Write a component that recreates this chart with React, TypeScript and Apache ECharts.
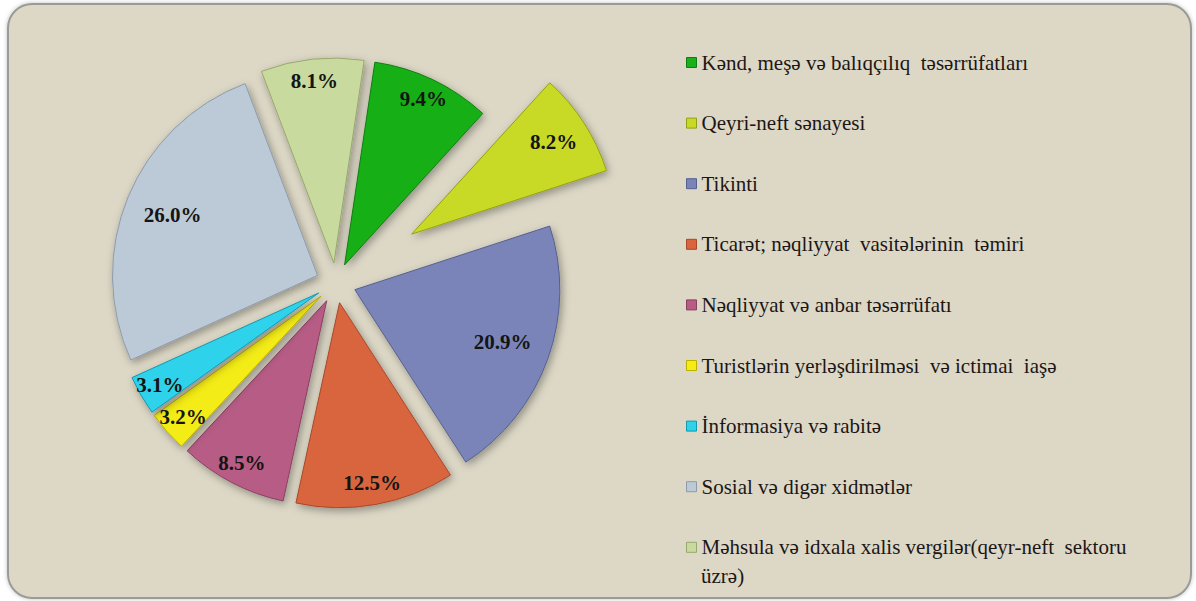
import React, { useEffect, useRef } from "react";
import * as echarts from "echarts";

const categories = [
  "Kənd, meşə və balıqçılıq  təsərrüfatları",
  "Qeyri-neft sənayesi",
  "Tikinti",
  "Ticarət; nəqliyyat  vasitələrinin  təmiri",
  "Nəqliyyat və anbar təsərrüfatı",
  "Turistlərin yerləşdirilməsi  və ictimai  iaşə",
  "İnformasiya və rabitə",
  "Sosial və digər xidmətlər",
  "Məhsula və idxala xalis vergilər(qeyr-neft  sektoru üzrə)",
];
const values = [9.4, 8.2, 20.9, 12.5, 8.5, 3.2, 3.1, 26.0, 8.1];
const colors = ["#19B019", "#C9DA26", "#7A84B9", "#D8653E", "#B65C85", "#F4EC12", "#2FD2EA", "#BCC9D7", "#C8DA9E"];
const edgeColors = ["#0E7E0E", "#93A014", "#56608F", "#A8472A", "#8A3F61", "#B9B000", "#1598AC", "#8E9BAA", "#97A86E"];

// label groups (placement distance inside the slice)
const farExploded = "Qeyri-neft sənayesi";
const midLabelNames = ["Tikinti", "Sosial və digər xidmətlər"];

const R = 205;
const CENTER = [336, 283];
const START = 81.5;

export default function App() {
  const ref = useRef<HTMLDivElement>(null);
  useEffect(() => {
    if (!ref.current) return;
    const chart = echarts.init(ref.current, null, { renderer: "svg" });
    const serif = "Liberation Serif";
    const fmt = (p: any) => p.value.toFixed(1) + "%";
    const shadow = {
      shadowBlur: 8,
      shadowColor: "rgba(0,0,0,0.35)",
      shadowOffsetX: 2,
      shadowOffsetY: 3,
    };
    const base = {
      type: "pie",
      center: CENTER,
      startAngle: START,
      clockwise: true,
      selectedMode: "multiple",
      silent: true,
      avoidLabelOverlap: false,
      labelLine: { show: false },
      emphasis: { disabled: true },
    };
    const hidden = { color: "rgba(0,0,0,0)", borderWidth: 0 };
    const labelStyle = {
      position: "inside",
      formatter: fmt,
      fontFamily: serif,
      fontWeight: "bold",
      fontSize: 21,
      color: "#141414",
    };
    const visible = (i: number) => ({
      color: colors[i],
      borderColor: edgeColors[i],
      borderWidth: 1,
      ...shadow,
    });

    const mainData = categories.map((n, i) => ({
      name: n,
      value: values[i],
      selected: true,
      itemStyle: n === farExploded ? { ...hidden, opacity: 0 } : visible(i),
    }));
    const farData = categories.map((n, i) => ({
      name: n,
      value: values[i],
      selected: true,
      itemStyle: n === farExploded ? visible(i) : { ...hidden, opacity: 0 },
    }));
    const labelData = (show: (n: string) => boolean) =>
      categories.map((n, i) => ({
        name: n,
        value: values[i],
        selected: true,
        itemStyle: hidden,
        label: { show: show(n) },
      }));

    chart.setOption({
      animation: false,
      graphic: [
        {
          type: "rect",
          z: -10,
          shape: { x: 8, y: 4, width: 1183, height: 594, r: 24 },
          style: {
            fill: "#DDD8C6",
            stroke: "#9A9A96",
            lineWidth: 2,
            shadowBlur: 4,
            shadowColor: "rgba(0,0,0,0.25)",
          },
        },
        {
          type: "text",
          z: 10,
          style: {
            x: 701,
            y: 576,
            text: "üzrə)",
            fontFamily: serif,
            fontSize: 21,
            fill: "#1C1616",
            verticalAlign: "middle",
          },
        },
      ],
      legend: {
        orient: "vertical",
        left: 681,
        top: 47,
        itemWidth: 10,
        itemHeight: 10,
        itemGap: 39.6,
        icon: "rect",
        selectedMode: false,
        formatter: (name: string) =>
          name === categories[8] ? "Məhsula və idxala xalis vergilər(qeyr-neft  sektoru" : name,
        textStyle: { fontFamily: serif, fontSize: 21, lineHeight: 21, color: "#1C1616" },
        data: categories.map((n, i) => ({
          name: n,
          itemStyle: { color: colors[i], borderColor: edgeColors[i], borderWidth: 1, opacity: 1 },
        })),
      },
      series: [
        { ...base, name: "main", radius: [0, R], selectedOffset: 20, label: { show: false }, data: mainData, z: 2 },
        { ...base, name: "far", radius: [0, R], selectedOffset: 90, label: { show: false }, data: farData, z: 2 },
        {
          ...base,
          name: "labelsFar",
          radius: [0, R * 2 * 0.88],
          selectedOffset: 20,
          label: labelStyle,
          data: labelData((n) => n !== farExploded && !midLabelNames.includes(n)),
          z: 3,
        },
        {
          ...base,
          name: "labelsMid",
          radius: [0, R * 2 * 0.75],
          selectedOffset: 20,
          label: labelStyle,
          data: labelData((n) => midLabelNames.includes(n)),
          z: 3,
        },
        {
          ...base,
          name: "labelsExploded",
          radius: [0, R * 2 * 0.81],
          selectedOffset: 90,
          label: labelStyle,
          data: labelData((n) => n === farExploded),
          z: 3,
        },
      ],
    });
    return () => chart.dispose();
  }, []);
  return (
    <div
      ref={ref}
      style={{ position: "fixed", left: 0, top: 0, width: 1196, height: 601, background: "#FFFFFF" }}
    />
  );
}
